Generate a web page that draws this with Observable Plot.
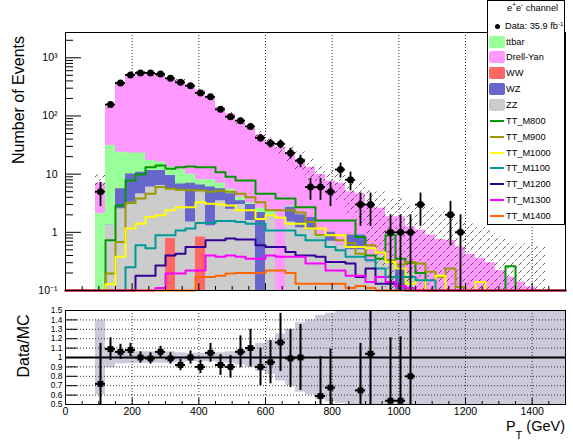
<!DOCTYPE html>
<html>
<head>
<meta charset="utf-8">
<script src="https://cdn.jsdelivr.net/npm/d3@7"></script>
<script src="https://cdn.jsdelivr.net/npm/@observablehq/plot@0.6"></script>
<style>
html,body{margin:0;padding:0;background:#fff;}
#wrap{position:relative;width:573px;height:440px;overflow:hidden;background:#fff;font-family:"Liberation Sans",Arial,Helvetica,sans-serif;color:#000;}
#main,#ratio{position:absolute;left:0;}
#main{top:0;}
#ratio{top:300px;}
.vt{position:absolute;white-space:nowrap;font-size:16px;line-height:16px;transform:translate(-50%,-50%) rotate(-90deg);}
#legend{position:absolute;left:487px;top:0px;width:78px;height:225px;border:1px solid #000;background:#fff;box-sizing:border-box;}
.lg{position:absolute;left:18px;white-space:nowrap;line-height:12px;}
.sw{position:absolute;left:1px;width:16px;height:12px;border-radius:2px;}
.ln{position:absolute;left:2px;width:14px;height:2px;}
.mk{position:absolute;left:7px;width:5px;height:5px;border-radius:50%;background:#000;}
#xt{position:absolute;right:8px;top:419px;font-size:14.5px;line-height:15px;white-space:nowrap;}
</style>
</head>
<body>
<div id="wrap">
  <div id="main"></div>
  <div id="ratio"></div>
  <div class="vt" style="left:18.7px;top:100px;">Number of Events</div>
  <div class="vt" style="left:24px;top:346px;">Data/MC</div>
  <div id="xt">P<span style="font-size:11px;vertical-align:-8px;">T</span> (GeV)</div>
  <div id="legend"></div>
</div>
<script>
// ---------------- data (30 GeV bins) ----------------
const binLo = [0,30,60,90,120,150,180,210,240,270,300,330,360,390,420,450,480,510,540,570,600,630,660,690,720,750,780,810,840,870,900,930,960,990,1020,1050,1080,1110,1140,1170,1200,1230,1260,1290,1320,1350,1380,1410,1440,1470];
const xEnd = 1500;

const dataCounts = [0,0,0,5,157,370,507,549,549,527, 443,378,332,249,213,130,97,83,66,42, 34,33,23,17,6,6,5,12,8,3, 3,0,1,1,1,3,0,0,2,1, 0,0,0,0,0,0,0,0,0,0];

// cumulative stack tops
const dyTop = [0,0,0,7,145,350,470,549,555,497, 447,411,332,277,203,141,108,78,60,47, 36,28.5,23.5,17.6,13,10,7.6,7,5,4.6, 2.9,2.6,1.85,1.85,1.25,1.1,0.9,0.75,0.72,0.56, 0.42,0.36,0.3,0.22,0.17,0.14,0.115,0.1,0,0];
const ttTop = [0,0,0,2.1,31,23.8,23,23,17.2,16.1, 13.2,12,10,8,8,7,5.5,4,3.2,2.6, 2.3,0,2.8,2,1.8,0.9,1,0.6,0.9,0.9, 0.3,0.4,0.3,0.25,0.2,0,0,0,0,0, 0,0,0,0,0,0,0,0,0,0];
const wzTop = [0,0,0,0,1.32,5.6,10.1,10.8,11.6,11.6, 9.5,6.8,7,6.5,6,5.6,4.6,3.5,3,2.2, 2,0,2.7,2,1.8,0.8,1,0.6,0.9,0.9, 0.3,0.4,0.3,0.25,0.2,0,0,0,0,0, 0,0,0,0,0,0,0,0,0,0];
const zzTop = [0,0,0,0,1.32,2.55,3.3,4.6,6,6.4, 5.6,5.2,1.5,5,1.3,3.5,2.5,3,1.6,0, 2,0,1.5,1.2,1.1,0.8,0.7,0.6,0.5,0.5, 0.3,0.4,0.3,0,0.2,0,0,0,0,0, 0,0,0,0,0,0,0,0,0,0];
const wwTop = [0,0,0,0,0,0,0,0,0,0, 0.78,0,0,0.83,0,0,0,0,0,0, 0,0,0,0,0,0,0,0,0,0, 0,0,0,0,0,0,0,0,0,0, 0,0,0,0,0,0,0,0,0,0];

// relative MC uncertainty per bin
const relErr = [0,0,0,0.4,0.11,0.07,0.065,0.06,0.06,0.06, 0.06,0.05,0.045,0.045,0.045,0.05,0.06,0.08,0.1,0.15, 0.18,0.25,0.3,0.37,0.4,0.45,0.47,0.49,0.6,0.7, 0.8,0.9,1,1.1,1.3,1.8,1.9,2,2.1,2.2, 2.3,2.4,2.6,2.8,3,3.5,4.5,5,5,5];

// signal samples
const m800  = [0,0,0,0,0.73,2.9,7.8,9.9,13.2,14.1, 12.4,13.2,13.5,13.2,13.2,10.8,9,7.8,7.8,4.6, 4.6,3.8,3.8,2.7,2.7,1.6,1.6,1.6,1.6,0.83, 0.4,0.35,0.89,0.35,0.3,0.2,0,0,0,0, 0,0,0,0,0.26,0,0,0,0,0];
const m900  = [0,0,0,0,0.196,0.68,3.2,3.8,4.6,6, 5.6,5.4,5.3,5.3,5,5.2,5,4.6,4,3.3, 2.4,2.4,2.4,2.2,1.5,0.9,0.9,0.73,0.65,0.43, 0.6,0.45,0.33,0.28,0.31,0.29,0.21,0.17,0.24,0.115, 0,0,0,0,0,0,0,0,0,0];
const m1000 = [0,0,0,0,0.128,0.38,1.16,1.4,1.83,1.96, 2.4,2.7,2.7,3.3,3.1,3,2.9,2.4,2.4,1.7, 1.96,1.8,1.4,1.4,1.16,1.16,0.89,0.89,0.56,0.56, 0.53,0.45,0.31,0.24,0.13,0.15,0,0.18,0,0, 0,0.14,0,0,0,0,0,0,0,0];
const m1100 = [0,0,0,0,0,0,0.25,0.6,0.53,0.89, 0.89,1.08,1.16,1.44,1.44,1.56,1.56,1.5,1.4,1.4, 1.08,1.08,1.08,0.89,0.73,0.73,0.56,0.49,0.38,0.38, 0.33,0.24,0.17,0.17,0.17,0.15,0.15,0,0,0, 0,0,0,0,0,0,0,0,0,0];
const m1200 = [0,0,0,0,0,0,0,0.18,0.18,0.27, 0.4,0.43,0.56,0.56,0.73,0.73,0.78,0.75,0.75,0.6, 0.56,0.56,0.46,0.4,0.4,0.38,0.31,0.31,0.29,0.17, 0.24,0.13,0.13,0.12,0,0,0,0,0,0, 0,0,0,0,0,0,0,0,0,0];
const m1300 = [0,0,0,0,0,0,0,0,0,0.11, 0.196,0.196,0.22,0.22,0.4,0.38,0.4,0.38,0.35,0.35, 0.4,0.38,0.38,0.38,0.29,0.29,0.22,0.22,0.18,0.18, 0.14,0.17,0.14,0.12,0.11,0,0,0,0,0, 0,0,0,0,0,0,0,0,0,0];
const m1400 = [0,0,0,0,0,0,0,0,0,0, 0,0,0,0.17,0.17,0.18,0.196,0.2,0.2,0.2, 0.22,0.22,0.2,0.13,0.13,0.13,0.13,0.13,0.11,0.12, 0.11,0,0,0,0,0,0,0,0,0, 0,0,0,0,0,0,0,0,0,0];

// ratio Data/MC
const ratioVals = [null,null,null,0.72,1.09,1.06,1.08,1.0,0.99,1.06, 0.99,0.92,1.0,0.9,1.05,0.92,0.9,1.06,1.1,0.9, 0.95,1.16,0.99,1.0,null,0.59,0.68,null,null,0.65, 1.04,null,0.54,0.54,0.8,null,null,null,null,null, null,null,null,null,null,null,null,null,null,null];
const ratioErrs = [null,null,null,0.43,0.12,0.08,0.07,0.06,0.06,0.06, 0.06,0.06,0.07,0.07,0.1,0.11,0.12,0.17,0.2,0.2, 0.23,0.31,0.31,0.35,null,0.42,0.41,null,null,0.5, 0.6,null,0.67,0.68,0.8,null,null,null,null,null, null,null,null,null,null,null,null,null,null,null];

// axis ticks / labels
const yMajor = [0.1,1,10,100,1000];
const yMajorLabels = ["10\u207B\u00B9","1","10","10\u00B2","10\u00B3"];
const yMinor = [0.2,0.3,0.4,0.5,0.6,0.7,0.8,0.9,2,3,4,5,6,7,8,9,20,30,40,50,60,70,80,90,200,300,400,500,600,700,800,900,2000];
const xMajor = [0,200,400,600,800,1000,1200,1400];
const xGrid = [200,400,600,800,1000,1200,1400];
const xMinor = [50,100,150,250,300,350,450,500,550,650,700,750,850,900,950,1050,1100,1150,1250,1300,1350,1450];
const rTicks = [0.5,0.6,0.7,0.8,0.9,1,1.1,1.2,1.3,1.4,1.5];
const rGrid = [0.6,0.7,0.8,0.9,1.1,1.2,1.3,1.4];

// legend
const legendFills = [["ttbar","#99ff99"],["Drell-Yan","#ff99ff"],["WW","#ff6666"],["WZ","#6666cc"],["ZZ","#cccccc"]];
const signals = [["TT_M800",m800,"#009900"],["TT_M900",m900,"#999900"],["TT_M1000",m1000,"#ffff00"],["TT_M1100",m1100,"#009999"],["TT_M1200",m1200,"#330099"],["TT_M1300",m1300,"#ff00ff"],["TT_M1400",m1400,"#ff6600"]];

// ---------------- helpers ----------------
function hasFont(name){
  const c=document.createElement("canvas").getContext("2d");
  c.font="20px monospace"; const a=c.measureText("abcdefghijklmnopWM").width;
  c.font=`20px "${name}", monospace`; return c.measureText("abcdefghijklmnopWM").width !== a;
}
const narrowOK = hasFont("Liberation Sans Narrow");
const NF = narrowOK ? '"Liberation Sans Narrow","Liberation Sans",Arial,sans-serif' : '"Liberation Sans",Arial,sans-serif';
const sz = narrowOK ? 1 : 0.84;

const FLOOR = 0.1;
function steps(vals){
  const p = binLo.map((x,i)=>({x, y: Math.max(vals[i], FLOOR)}));
  p.push({x: xEnd, y: Math.max(vals[vals.length-1], FLOOR)});
  return p;
}
const hatchPts = binLo.map((x,i)=>({x, lo: Math.max(dyTop[i]*(1-relErr[i]), FLOOR), hi: Math.max(dyTop[i]*(1+relErr[i]), FLOOR)}));
hatchPts.push({x: xEnd, lo: FLOOR, hi: FLOOR});

const dataPts = binLo.map((x,i)=>({lo:x, hi:x+30, c:x+15, n:dataCounts[i]})).filter(d=>d.n>0)
  .map(d=>({...d, e1: Math.max(d.n - Math.sqrt(d.n), FLOOR), e2: d.n + Math.sqrt(d.n)}));

const frameW = 573-65-8;
const mainH = 300, mTop = 32, mBot = 10, mFrameH = mainH-mTop-mBot;

const main = Plot.plot({
  width: 573, height: mainH,
  marginLeft: 65, marginRight: 8, marginTop: mTop, marginBottom: mBot,
  style: {fontFamily: NF, fontSize: (12.5*sz)+"px", background: "white", overflow: "visible"},
  x: {domain: [0, xEnd], axis: null},
  y: {type: "log", domain: [0.1, 2720], label: null},
  marks: [
    Plot.ruleX(xGrid, {stroke: "#333", strokeDasharray: "1,2"}),
    Plot.areaY(steps(dyTop), {x: "x", y1: FLOOR, y2: "y", curve: "step-after", fill: "#ff99ff"}),
    Plot.areaY(steps(ttTop), {x: "x", y1: FLOOR, y2: "y", curve: "step-after", fill: "#99ff99"}),
    Plot.areaY(steps(wzTop), {x: "x", y1: FLOOR, y2: "y", curve: "step-after", fill: "#6666cc"}),
    Plot.areaY(steps(zzTop), {x: "x", y1: FLOOR, y2: "y", curve: "step-after", fill: "#cccccc"}),
    Plot.areaY(steps(wwTop), {x: "x", y1: FLOOR, y2: "y", curve: "step-after", fill: "#ff6666"}),
    Plot.areaY(hatchPts, {x: "x", y1: "lo", y2: "hi", curve: "step-after", fill: "url(#hatch)"}),
    ...signals.map(([name, vals, col]) => Plot.line(steps(vals), {x: "x", y: "y", curve: "step-after", stroke: col, strokeWidth: 2})),
    Plot.ruleX(dataPts, {x: "c", y1: "e1", y2: "e2", stroke: "black", strokeWidth: 1.8}),
    Plot.ruleY(dataPts, {y: "n", x1: "lo", x2: "hi", stroke: "black", strokeWidth: 1.8}),
    Plot.dot(dataPts, {x: "c", y: "n", r: 3.5, fill: "black"}),
    Plot.ruleY(yMajor, {insetRight: frameW-16, stroke: "black"}),
    Plot.ruleY(yMinor, {insetRight: frameW-8, stroke: "black"}),
    Plot.ruleX(xMajor, {insetTop: mFrameH-7, stroke: "black"}),
    Plot.ruleX(xMinor, {insetTop: mFrameH-4, stroke: "black"}),
    Plot.axisY({ticks: yMajor, tickSize: 0, tickPadding: 8, label: null, tickFormat: d => yMajorLabels[yMajor.indexOf(d)]}),
    Plot.frame({stroke: "black"})
  ]
});
// hatch pattern
const defs = d3.select(main).insert("defs", ":first-child");
const pat = defs.append("pattern").attr("id","hatch").attr("patternUnits","userSpaceOnUse").attr("width",8).attr("height",8);
pat.append("path").attr("d","M0,8L8,0M-2,2L2,-2M6,10L10,6").attr("stroke","#333").attr("stroke-width",0.8).attr("stroke-dasharray","2.5,2.2").attr("fill","none");
document.getElementById("main").appendChild(main);

// ratio panel
const rH = 140, rTop = 10, rBot = 36, rFrameH = rH-rTop-rBot;
const bandPts = binLo.map((x,i)=>(i<3 ? {x, lo: NaN, hi: NaN} : {x, lo: Math.max(1-relErr[i], 0.5), hi: Math.min(1+relErr[i], 1.5)}));
bandPts.push({x: xEnd, lo: 0.5, hi: 1.5});
const rPts = binLo.map((x,i)=>({lo:x, hi:x+30, c:x+15, r: ratioVals[i], e: ratioErrs[i]})).filter(d=>d.r!==null)
  .map(d=>({...d, e1: Math.max(d.r-d.e, 0.5), e2: Math.min(d.r+d.e, 1.5)}));

const ratio = Plot.plot({
  width: 573, height: rH,
  marginLeft: 65, marginRight: 8, marginTop: rTop, marginBottom: rBot,
  style: {fontFamily: NF, fontSize: (12*sz)+"px", background: "white", overflow: "visible"},
  x: {domain: [0, xEnd], label: null},
  y: {domain: [0.5, 1.5], label: null},
  marks: [
    Plot.areaY(bandPts, {x: "x", y1: "lo", y2: "hi", curve: "step-after", fill: "#cbcbdc"}),
    Plot.ruleX(xGrid, {stroke: "#333", strokeDasharray: "1,2"}),
    Plot.ruleY(rGrid, {stroke: "#333", strokeDasharray: "1,2"}),
    Plot.ruleY([1], {stroke: "black", strokeWidth: 2}),
    Plot.ruleX(rPts, {x: "c", y1: "e1", y2: "e2", stroke: "black", strokeWidth: 2}),
    Plot.ruleY(rPts, {y: "r", x1: "lo", x2: "hi", stroke: "black", strokeWidth: 2}),
    Plot.dot(rPts, {x: "c", y: "r", r: 3.3, symbol: "square", fill: "black"}),
    Plot.ruleY(rTicks, {insetRight: frameW-12, stroke: "black"}),
    Plot.ruleX(xMajor, {insetTop: rFrameH-6, stroke: "black"}),
    Plot.ruleX(xMinor, {insetTop: rFrameH-3, stroke: "black"}),
    Plot.axisY({ticks: rTicks, tickSize: 0, tickPadding: 3, label: null, fontSize: 10*sz, tickFormat: d => d===1 ? "1" : d.toFixed(1)}),
    Plot.axisX({ticks: xMajor, tickSize: 0, tickPadding: 3, label: null, fontSize: 12.5*sz, tickFormat: d => String(d)}),
    Plot.frame({stroke: "black"})
  ]
});
document.getElementById("ratio").appendChild(ratio);

// legend
const lg = document.getElementById("legend");
const fs = (11*sz)+"px";
function addText(txt, cy, left, html){
  const s = document.createElement("div"); s.className = "lg";
  s.style.top = (cy-7)+"px"; s.style.fontFamily = NF; s.style.fontSize = fs;
  if (left !== undefined) s.style.left = left+"px";
  if (html) s.innerHTML = txt; else s.textContent = txt;
  lg.appendChild(s);
}
const rowY = [42,57,72.5,88.5,104.5,120.5,136.5,152.5,168.3,184,200,216];
addText("e<sup style='font-size:0.7em;line-height:0'>+</sup>e<sup style='font-size:0.7em;line-height:0'>-</sup> channel", 8.3, 19, true);
addText("Data: 35.9 fb<sup style='font-size:0.65em;vertical-align:0.45em;line-height:0'>-1</sup>", 26, 17, true);
{ const m = document.createElement("div"); m.className="mk"; m.style.top=(26-1-2.5)+"px"; lg.appendChild(m); }
legendFills.forEach(([name,col],i)=>{
  const b = document.createElement("div"); b.className="sw"; b.style.background=col; b.style.top=(rowY[i]-1-6)+"px"; lg.appendChild(b);
  addText(name, rowY[i]);
});
signals.forEach(([name,vals,col],j)=>{
  const i = j+5;
  const l = document.createElement("div"); l.className="ln"; l.style.background=col; l.style.top=(rowY[i]-1-1)+"px"; lg.appendChild(l);
  addText(name, rowY[i]);
});
</script>
</body>
</html>
